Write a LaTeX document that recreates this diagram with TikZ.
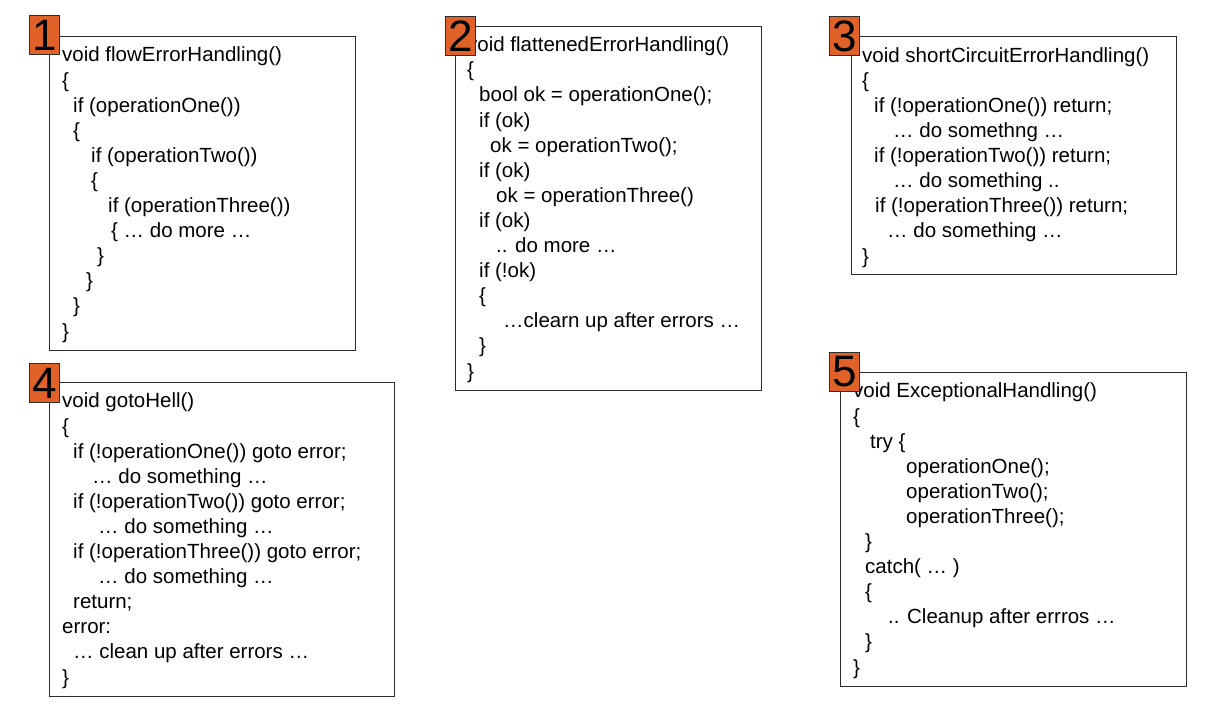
\documentclass[tikz,border=0pt]{standalone}
\usepackage{fontspec}
\setmainfont{Liberation Sans}
\usetikzlibrary{positioning}
\definecolor{badgeorange}{RGB}{224,98,40}
\definecolor{framegray}{RGB}{45,45,45}
\newcommand{\ind}[1]{\hspace*{#1pt}}

\begin{document}
\begin{tikzpicture}[x=1pt,y=-1pt,
  codebox/.style={draw=framegray,line width=1pt,inner sep=0pt,anchor=north west},
  codetext/.style={align=left,inner sep=0pt,anchor=base west,
    font=\fontsize{20.5}{25.1}\selectfont},
  badge/.style={draw=framegray,fill=badgeorange,line width=0.8pt,
    minimum width=30pt,minimum height=39pt,inner sep=0pt,anchor=north west,
    font=\fontsize{44}{44}\selectfont}]
\useasboundingbox (0,0) rectangle (1207,716);

% frames
\node[codebox,minimum width=306pt,minimum height=314pt] (box1) at (49,36) {};
\node[codebox,minimum width=306pt,minimum height=364pt] (box2) at (455,26) {};
\node[codebox,minimum width=325pt,minimum height=238pt] (box3) at (851,36) {};
\node[codebox,minimum width=345pt,minimum height=314pt] (box4) at (49,382) {};
\node[codebox,minimum width=346pt,minimum height=314pt] (box5) at (840,372) {};

% code (anchored at the baseline of the last line)
\node[codetext] (code1) at (62,338) {void flowErrorHandling()\\
{\{}\\
\ind{11}if (operationOne())\\
\ind{11}\{\\
\ind{29}if (operationTwo())\\
\ind{29}\{\\
\ind{46}if (operationThree())\\
\ind{49}\{ … do more …\\
\ind{35}\}\\
\ind{24}\}\\
\ind{11}\}\\
\}};

\node[codetext] (code2) at (467,378) {void flattenedErrorHandling()\\
{\{}\\
\ind{12}bool ok = operationOne();\\
\ind{12}if (ok)\\
\ind{23}ok = operationTwo();\\
\ind{12}if (ok)\\
\ind{29}ok = operationThree()\\
\ind{12}if (ok)\\
\ind{29}.. do more …\\
\ind{12}if (!ok)\\
\ind{12}\{\\
\ind{36}…clearn up after errors …\\
\ind{12}\}\\
\}};

\node[codetext] (code3) at (862,263) {void shortCircuitErrorHandling()\\
{\{}\\
\ind{12}if (!operationOne()) return;\\
\ind{31}… do somethng …\\
\ind{12}if (!operationTwo()) return;\\
\ind{31}… do something ..\\
\ind{13}if (!operationThree()) return;\\
\ind{25}… do something …\\
\}};

\node[codetext] (code4) at (62,684) {void gotoHell()\\
{\{}\\
\ind{11}if (!operationOne()) goto error;\\
\ind{30}… do something …\\
\ind{11}if (!operationTwo()) goto error;\\
\ind{36}… do something …\\
\ind{11}if (!operationThree()) goto error;\\
\ind{36}… do something …\\
\ind{11}return;\\
error:\\
\ind{11}… clean up after errors …\\
\}};

\node[codetext] (code5) at (853,674) {void ExceptionalHandling()\\
{\{}\\
\ind{17}try \{\\
\ind{53}operationOne();\\
\ind{53}operationTwo();\\
\ind{53}operationThree();\\
\ind{12}\}\\
\ind{12}catch( … )\\
\ind{12}\{\\
\ind{35}.. Cleanup after errros …\\
\ind{12}\}\\
\}};

% numbers
\node[badge] (num1) at (29,15) {1};
\node[badge] (num2) at (445,16) {2};
\node[badge] (num3) at (829,16) {3};
\node[badge] (num4) at (29,363) {4};
\node[badge] (num5) at (829,352) {5};
\end{tikzpicture}
\end{document}
